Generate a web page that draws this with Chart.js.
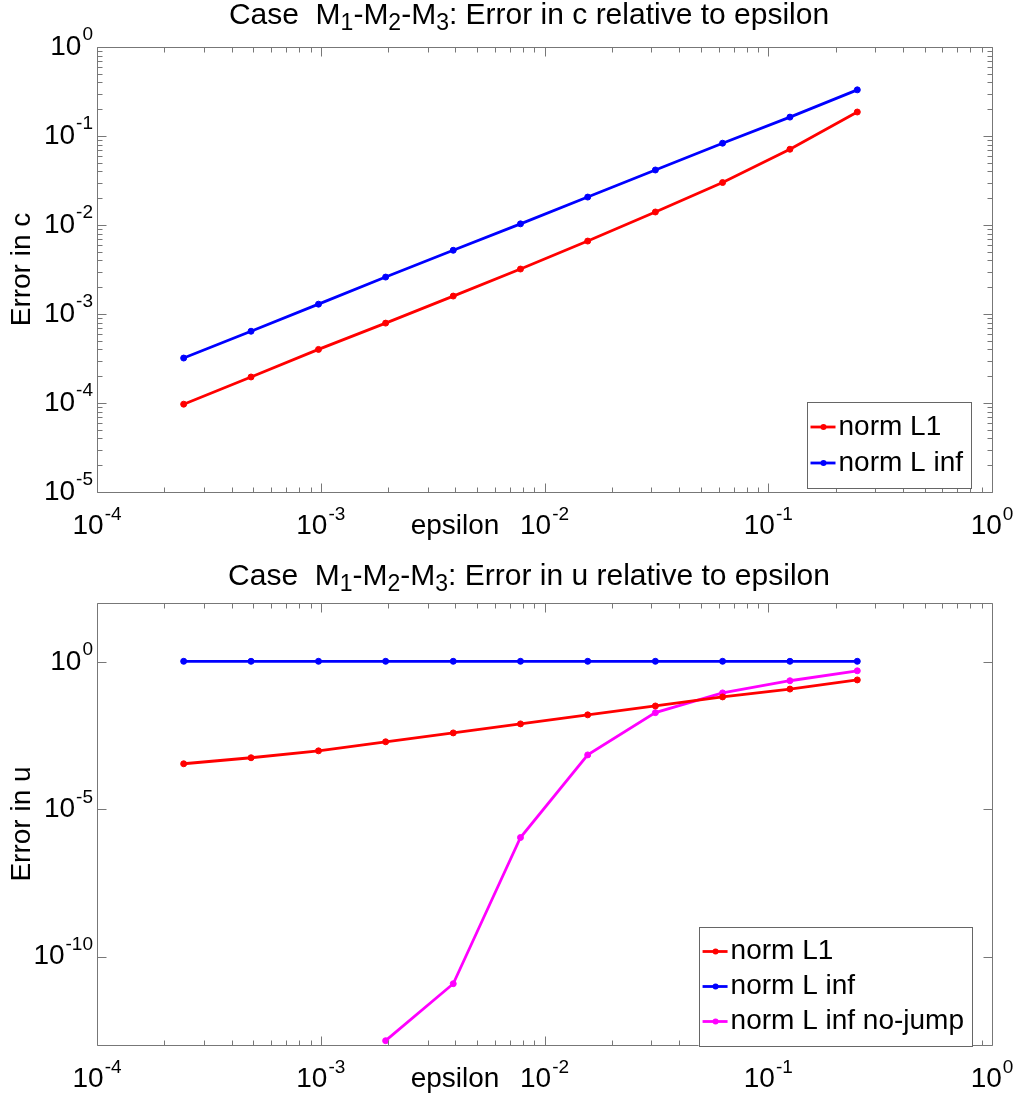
<!doctype html>
<html>

<head>
    <title>Case M1-M2-M3</title>
    <meta http-equiv="Content-Type" content="text/html;charset=UTF-8">
    <script src="https://cdn.jsdelivr.net/npm/chart.js@4.4.1/dist/chart.umd.min.js"></script>
    <style>
        body { margin: 0; background: #fff; }
        canvas { position: absolute; left: 0; }
    </style>
</head>

<body>
    <canvas id="grafico_c" width="1016" height="549" style="top:0px"></canvas>
    <canvas id="grafico_u" width="1016" height="549" style="top:549px"></canvas>
</body>
<script>

    // epsilon (eixo x)
    var epsilon = [2.44e-4, 4.88e-4, 9.77e-4, 1.95e-3, 3.91e-3, 7.81e-3, 1.56e-2, 3.13e-2, 6.25e-2, 0.125, 0.25];

    // erro em c
    var erro_c_L1 = [9.7e-5, 1.96e-4, 4.0e-4, 7.9e-4, 1.59e-3, 3.2e-3, 6.6e-3, 1.40e-2, 3.0e-2, 7.1e-2, 0.186];
    var erro_c_Linf = [3.2e-4, 6.4e-4, 1.29e-3, 2.6e-3, 5.2e-3, 1.03e-2, 2.06e-2, 4.15e-2, 8.3e-2, 0.163, 0.33];

    // erro em u
    var erro_u_L1 = [3.5e-4, 5.6e-4, 9.6e-4, 1.95e-3, 3.9e-3, 7.9e-3, 1.6e-2, 3.2e-2, 6.5e-2, 0.12, 0.245];
    var erro_u_Linf = [1.05, 1.05, 1.05, 1.05, 1.05, 1.05, 1.05, 1.05, 1.05, 1.05, 1.05];
    var erro_u_nojump = [null, null, null, 1.4e-13, 1.2e-11, 1.1e-6, 7.0e-4, 1.9e-2, 8.9e-2, 0.23, 0.5];

    // expoentes dos ticks
    var x_expoentes = [-4, -3, -2, -1, 0];
    var y_expoentes_c = [-5, -4, -3, -2, -1, 0];
    var y_expoentes_u = [-10, -5, 0];

    var nomes = ['norm L1', 'norm L inf', 'norm L inf no-jump'];
    var cores = ['#ff0000', '#0000ff', '#ff00ff'];

    var FAMILIA = '"Liberation Sans", Arial, sans-serif';
    function fonte(px) { return px + 'px ' + FAMILIA; }

    function pontos(valores) {
        var lista = [];
        for (var i = 0; i < epsilon.length; i++) {
            if (valores[i] !== null) lista.push({ x: epsilon[i], y: valores[i] });
        }
        return lista;
    }

    function potencia(ctx, expo, x, y, alinha) {
        ctx.font = fonte(28);
        var wb = ctx.measureText('10').width;
        ctx.font = fonte(19);
        var ws = ctx.measureText(String(expo)).width;
        var total = wb + ws + 1;
        var x0 = alinha === 'center' ? x - total / 2 : x - total;
        ctx.textAlign = 'left';
        ctx.textBaseline = 'middle';
        ctx.font = fonte(28);
        ctx.fillText('10', x0, y);
        ctx.font = fonte(19);
        ctx.fillText(String(expo), x0 + wb + 1, y - 12);
    }

    function titulo(ctx, partes, cx, cy) {
        var w = 0;
        partes.forEach(function (p) {
            ctx.font = fonte(p[1] ? 23 : 30);
            w += ctx.measureText(p[0]).width;
        });
        var x = cx - w / 2;
        ctx.textAlign = 'left';
        ctx.textBaseline = 'middle';
        partes.forEach(function (p) {
            ctx.font = fonte(p[1] ? 23 : 30);
            ctx.fillText(p[0], x, p[1] ? cy + 8 : cy);
            x += ctx.measureText(p[0]).width;
        });
    }

    function plugin_eixos(cfg) {
        return {
            id: 'eixos',
            afterDraw: function (chart) {
                var ctx = chart.ctx, a = chart.chartArea;
                var sx = chart.scales.x, sy = chart.scales.y;
                var L = Math.round(a.left) + 0.5, R = Math.round(a.right) + 0.5;
                var T = Math.round(a.top) + 0.5, B = Math.round(a.bottom) + 0.5;
                ctx.save();
                ctx.strokeStyle = '#777';
                ctx.lineWidth = 1;
                ctx.beginPath();
                ctx.rect(L, T, R - L, B - T);

                // ticks x
                x_expoentes.forEach(function (e) {
                    var px = Math.round(sx.getPixelForValue(Math.pow(10, e))) + 0.5;
                    ctx.moveTo(px, B); ctx.lineTo(px, B - 9);
                    ctx.moveTo(px, T); ctx.lineTo(px, T + 9);
                    if (e < 0) {
                        for (var m = 2; m <= 9; m++) {
                            var pm = Math.round(sx.getPixelForValue(m * Math.pow(10, e))) + 0.5;
                            ctx.moveTo(pm, B); ctx.lineTo(pm, B - 5);
                            ctx.moveTo(pm, T); ctx.lineTo(pm, T + 5);
                        }
                    }
                });
                // ticks y
                cfg.y_expoentes.forEach(function (e) {
                    var py = Math.round(sy.getPixelForValue(Math.pow(10, e))) + 0.5;
                    ctx.moveTo(L, py); ctx.lineTo(L + 9, py);
                    ctx.moveTo(R, py); ctx.lineTo(R - 9, py);
                    if (cfg.y_menores && e < 0) {
                        for (var m = 2; m <= 9; m++) {
                            var pm = Math.round(sy.getPixelForValue(m * Math.pow(10, e))) + 0.5;
                            ctx.moveTo(L, pm); ctx.lineTo(L + 5, pm);
                            ctx.moveTo(R, pm); ctx.lineTo(R - 5, pm);
                        }
                    }
                });
                ctx.stroke();

                // rotulos
                ctx.fillStyle = '#000';
                x_expoentes.forEach(function (e) {
                    potencia(ctx, e, sx.getPixelForValue(Math.pow(10, e)), B + 34, 'center');
                });
                cfg.y_expoentes.forEach(function (e) {
                    potencia(ctx, e, a.left - 4, sy.getPixelForValue(Math.pow(10, e)), 'right');
                });

                ctx.font = fonte(28);
                ctx.textAlign = 'center';
                ctx.textBaseline = 'middle';
                ctx.fillText('epsilon', 455, B + 34);

                ctx.save();
                ctx.translate(cfg.ylabel_x, (a.top + a.bottom) / 2);
                ctx.rotate(-Math.PI / 2);
                ctx.fillText(cfg.ylabel, 0, 0);
                ctx.restore();

                titulo(ctx, cfg.titulo, cfg.titulo_x, cfg.titulo_y);

                // legenda
                ctx.font = fonte(28);
                var wt = 0;
                cfg.legenda.forEach(function (i) { wt = Math.max(wt, ctx.measureText(nomes[i]).width); });
                var tx = cfg.leg_direita - 8 - wt;
                var esq = tx - 32;
                var alto = cfg.legenda.length * cfg.leg_passo + 14;
                ctx.fillStyle = '#fff';
                ctx.fillRect(esq, cfg.leg_topo, cfg.leg_direita - esq, alto);
                ctx.strokeStyle = '#666';
                ctx.lineWidth = 1;
                ctx.strokeRect(Math.round(esq) + 0.5, cfg.leg_topo + 0.5, Math.round(cfg.leg_direita - esq), alto);
                cfg.legenda.forEach(function (i, k) {
                    var yy = cfg.leg_topo + 7 + cfg.leg_passo * (k + 0.5);
                    ctx.strokeStyle = cores[i];
                    ctx.lineWidth = 2.8;
                    ctx.beginPath();
                    ctx.moveTo(tx - 28, yy); ctx.lineTo(tx - 3, yy);
                    ctx.stroke();
                    ctx.fillStyle = cores[i];
                    ctx.beginPath();
                    ctx.arc(tx - 15, yy, 3, 0, Math.PI * 2);
                    ctx.fill();
                    ctx.fillStyle = '#000';
                    ctx.textAlign = 'left';
                    ctx.fillText(nomes[i], tx, yy);
                });
                ctx.restore();
            }
        };
    }

    function serie(i, valores) {
        return {
            label: nomes[i],
            data: pontos(valores),
            borderColor: cores[i],
            backgroundColor: cores[i],
            pointBackgroundColor: cores[i],
            borderWidth: 2.8,
            pointRadius: 3,
            pointBorderWidth: 1,
            fill: false,
            tension: 0
        };
    }

    function plota_grafico(id, series, y_min, padding, cfg) {
        return new Chart(document.getElementById(id), {
            type: 'line',
            data: { datasets: series },
            options: {
                responsive: false,
                animation: false,
                events: [],
                layout: { padding: padding },
                plugins: {
                    legend: { display: false },
                    title: { display: false },
                    tooltip: { enabled: false }
                },
                scales: {
                    x: { type: 'logarithmic', min: 1e-4, max: 1, display: false },
                    y: { type: 'logarithmic', min: y_min, max: cfg.y_max, display: false }
                }
            },
            plugins: [plugin_eixos(cfg)]
        });
    }

    plota_grafico('grafico_c',
        [serie(0, erro_c_L1), serie(1, erro_c_Linf)],
        1e-5,
        { left: 97, top: 47, right: 24, bottom: 57 },
        {
            y_max: 1,
            y_expoentes: y_expoentes_c,
            y_menores: true,
            ylabel: 'Error in c',
            ylabel_x: 22,
            titulo: [['Case  M', 0], ['1', 1], ['-M', 0], ['2', 1], ['-M', 0], ['3', 1], [': Error in c relative to epsilon', 0]],
            titulo_x: 529,
            titulo_y: 16,
            legenda: [0, 1],
            leg_direita: 971,
            leg_topo: 402,
            leg_passo: 36
        });

    plota_grafico('grafico_u',
        [serie(0, erro_u_L1), serie(1, erro_u_Linf), serie(2, erro_u_nojump)],
        1e-13,
        { left: 97, top: 54, right: 24, bottom: 53 },
        {
            y_max: 100,
            y_expoentes: y_expoentes_u,
            y_menores: false,
            ylabel: 'Error in u',
            ylabel_x: 22,
            titulo: [['Case  M', 0], ['1', 1], ['-M', 0], ['2', 1], ['-M', 0], ['3', 1], [': Error in u relative to epsilon', 0]],
            titulo_x: 529,
            titulo_y: 28,
            legenda: [0, 1, 2],
            leg_direita: 972,
            leg_topo: 378,
            leg_passo: 35
        });
</script>

</html>
